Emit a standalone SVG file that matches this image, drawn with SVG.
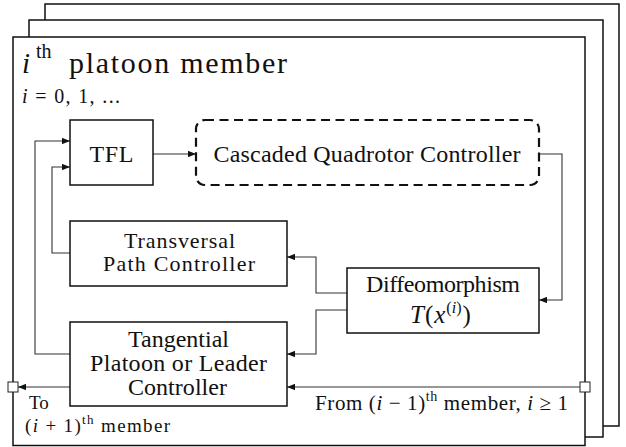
<svg xmlns="http://www.w3.org/2000/svg" width="626" height="447" viewBox="0 0 626 447">
<style>
  .frame { fill: #fff; stroke: #111; stroke-width: 1.5; }
  .box { fill: #fff; stroke: #111; stroke-width: 1.5; }
  .dash { fill: #fff; stroke: #111; stroke-width: 2.2; stroke-dasharray: 9 5.5; }
  .conn { fill: none; stroke: #333; stroke-width: 1.1; }
  .port { fill: #fff; stroke: #222; stroke-width: 1; }
  text { font-family: "Liberation Serif", "Times New Roman", serif; fill: #111; }
  .lbl { font-size: 24px; text-anchor: middle; }
  .it { font-style: italic; }
</style>
<defs>
  <marker id="arr" viewBox="0 0 10 8" refX="10" refY="4" markerWidth="8" markerHeight="6.4" markerUnits="userSpaceOnUse" orient="auto">
    <path d="M0,0 L10,4 L0,8 Z" fill="#111"/>
  </marker>
</defs>

<g id="frames">
  <rect class="frame" x="45" y="4" width="574" height="422"/>
  <rect class="frame" x="29" y="20" width="574" height="417"/>
  <rect class="frame" x="13" y="37" width="572" height="408.5"/>
</g>

<g id="title">
  <text x="22" y="73" font-size="29" class="it">i</text>
  <text x="36" y="58" font-size="20">th</text>
  <text x="69" y="73" font-size="30" textLength="218" lengthAdjust="spacing">platoon member</text>
  <text x="22" y="103" font-size="20" textLength="98" lengthAdjust="spacing"><tspan class="it">i</tspan> = 0, 1, ...</text>
</g>

<g id="connectors">
  <path class="conn" d="M153,154 H196" marker-end="url(#arr)"/>
  <path class="conn" d="M539,154 H562 V300 H539" marker-end="url(#arr)"/>
  <path class="conn" d="M347,293 H316 V257 H287" marker-end="url(#arr)"/>
  <path class="conn" d="M347,310 H316 V354 H287" marker-end="url(#arr)"/>
  <path class="conn" d="M70,253 H52 V167 H70" marker-end="url(#arr)"/>
  <path class="conn" d="M70,354 H35 V141 H70" marker-end="url(#arr)"/>
  <path class="conn" d="M580,387 H287" marker-end="url(#arr)"/>
  <path class="conn" d="M70,387 H18" marker-end="url(#arr)"/>
</g>

<g id="tfl">
  <rect class="box" x="70" y="120" width="83" height="65"/>
  <text class="lbl" x="111.5" y="162" textLength="44" lengthAdjust="spacing">TFL</text>
</g>

<g id="cascaded">
  <rect class="dash" x="196" y="120" width="343" height="65" rx="9" ry="9"/>
  <text class="lbl" x="367" y="162" textLength="307" lengthAdjust="spacing">Cascaded Quadrotor Controller</text>
</g>

<g id="transversal">
  <rect class="box" x="70" y="221" width="217" height="65"/>
  <text class="lbl" x="179.5" y="248" font-size="22" style="font-size:22px" textLength="111" lengthAdjust="spacing">Transversal</text>
  <text class="lbl" x="179" y="271" style="font-size:22px" textLength="152" lengthAdjust="spacing">Path Controller</text>
</g>

<g id="tangential">
  <rect class="box" x="70" y="322" width="217" height="84"/>
  <text class="lbl" x="178.5" y="347" textLength="101" lengthAdjust="spacing">Tangential</text>
  <text class="lbl" x="178.5" y="371" textLength="177" lengthAdjust="spacing">Platoon or Leader</text>
  <text class="lbl" x="177.5" y="395" textLength="99" lengthAdjust="spacing">Controller</text>
</g>

<g id="diffeomorphism">
  <rect class="box" x="347" y="268" width="192" height="65"/>
  <text class="lbl" x="443" y="292" textLength="154" lengthAdjust="spacing">Diffeomorphism</text>
  <text x="410" y="323" font-size="25"><tspan class="it">T</tspan><tspan dx="1">(</tspan><tspan class="it" dx="1">x</tspan><tspan dy="-10" dx="1" font-size="16">(<tspan class="it">i</tspan>)</tspan><tspan dy="10" dx="1">)</tspan></text>
</g>

<g id="ports">
  <rect class="port" x="8" y="382" width="10" height="10"/>
  <rect class="port" x="580" y="382" width="10" height="10"/>
</g>

<g id="io-labels">
  <text x="29" y="409" font-size="19">To</text>
  <text x="25" y="432" font-size="19" textLength="145" lengthAdjust="spacing">(<tspan class="it">i</tspan> + 1)<tspan dy="-8" font-size="13">th</tspan><tspan dy="8"> member</tspan></text>
  <text x="315" y="410" font-size="21" textLength="253" lengthAdjust="spacing">From (<tspan class="it">i</tspan> − 1)<tspan dy="-9" font-size="14">th</tspan><tspan dy="9"> member, </tspan><tspan class="it">i</tspan> ≥ 1</text>
</g>
</svg>
